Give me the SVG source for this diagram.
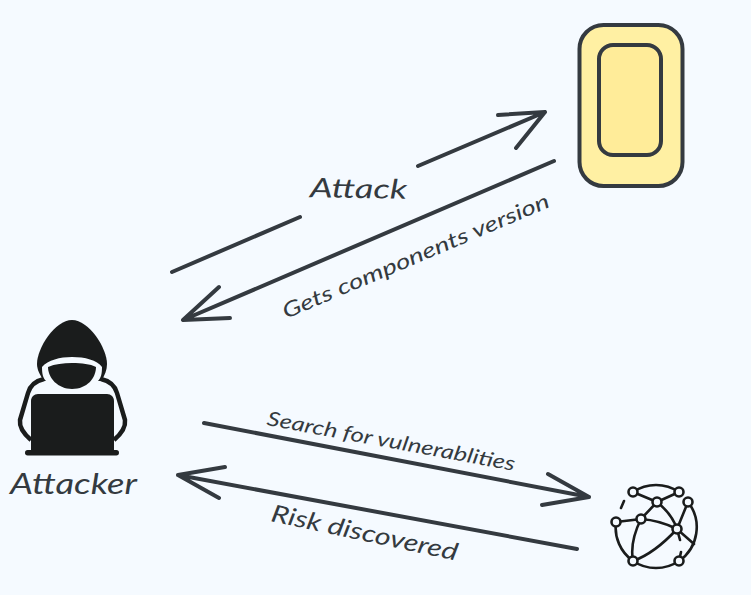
<svg xmlns="http://www.w3.org/2000/svg" width="751" height="595" viewBox="0 0 751 595">
<style>
.ln{fill:none;stroke:#343a40;stroke-width:4;stroke-linecap:round;stroke-linejoin:round}
.t{font-family:"Lato","Noto Sans",sans-serif;font-style:italic;fill:#343a40}
.g{fill:none;stroke:#1a1c1c;stroke-width:2.6;stroke-linecap:round}
.n{fill:#f5faff;stroke:#1a1c1c;stroke-width:2.6}
</style>
<rect width="751" height="595" fill="#f5faff"/>
<g id="connectors">
<path class="ln" d="M172 272L300 217M418 166L545 112M498 115L545 112L516 148"/>
<path class="ln" d="M554 161L183 320M219 287L183 320L230 318"/>
<path class="ln" d="M204 423L589 497M548 474L589 497L542 505"/>
<path class="ln" d="M577 549L178 475M225 467L178 475L219 498"/>
</g>
<g id="label-attack"><text class="t" x="310" y="198" font-size="27" textLength="97" lengthAdjust="spacingAndGlyphs" transform="rotate(1 358 190)">Attack</text></g>
<g id="label-gets"><text class="t" x="0" y="0" font-size="21" textLength="288" lengthAdjust="spacingAndGlyphs" transform="translate(286 319) rotate(-23)">Gets components version</text></g>
<g id="label-search"><text class="t" x="0" y="0" font-size="20" textLength="252" lengthAdjust="spacingAndGlyphs" transform="translate(266 425) rotate(10.5)">Search for vulnerablities</text></g>
<g id="label-risk"><text class="t" x="0" y="0" font-size="24" textLength="190" lengthAdjust="spacingAndGlyphs" transform="translate(270 521) rotate(12)">Risk discovered</text></g>
<g id="device">
<rect x="579.500" y="25" width="103" height="161" rx="24" fill="#fff0a3" stroke="#343a40" stroke-width="4"/>
<rect x="599" y="45" width="62" height="110" rx="14" fill="#ffec99" stroke="#343a40" stroke-width="4"/>
</g>
<g id="attacker">
<path fill="none" stroke="#1a1c1c" stroke-width="4.500" stroke-linejoin="round" d="M44 379C35 381 30 386 28 393L20 420C19 428 24 434 31 440M101 379C110 381 115 386 117 393L125 420C126 428 121 434 114 440"/>
<path fill="#1a1c1c" d="M72 320C55 320 37 348 37 364C37 370 40 375 44 381H101C105 375 107 370 107 364C107 348 89 320 72 320Z"/>
<path fill="#f5faff" d="M42 367C48 360 60 357 72 357C85 357 97 360 102 367C102 374 101 378 98 381C92 388 84 393 72 393C60 393 52 388 46 381C43 378 42 374 42 367Z"/>
<path fill="#1a1c1c" d="M48 367C55 364 63 363 72 363C82 363 90 364 96 367C96 378 87 389 72 389C58 389 48 378 48 367Z"/>
<path fill="#1a1c1c" d="M38 394H107C111 394 114 397 114 401V451H31V401C31 397 34 394 38 394Z"/>
<rect x="25" y="450" width="94" height="5.500" rx="2.700" fill="#1a1c1c"/>
<text class="t" x="10" y="494" font-size="28" textLength="127" lengthAdjust="spacingAndGlyphs">Attacker</text>
</g>
<g id="globe">
<path class="g" d="M633 492A41 41 0 0 1 679 492M688 502A41 41 0 0 1 679 561M679 561A41 41 0 0 1 633 561M633 561A41 41 0 0 1 616 522M621 508L624 501"/>
<path class="g" d="M633 492L657 502L679 492M657 502L641 519L616 522M688 502L677 529M641 519C655 520 667 524 677 529L694 544M657 502C667 510 674 520 677 529L680 540M641 519C633 535 631 550 633 561C650 555 665 542 677 529M679 561L681 552"/>
<circle class="n" cx="633" cy="492" r="4.500"/><circle class="n" cx="679" cy="492" r="4.500"/><circle class="n" cx="657" cy="502" r="4.500"/><circle class="n" cx="688" cy="502" r="4.500"/><circle class="n" cx="616" cy="522" r="4.500"/><circle class="n" cx="641" cy="519" r="4.500"/><circle class="n" cx="677" cy="529" r="4.500"/><circle class="n" cx="633" cy="561" r="4.500"/><circle class="n" cx="679" cy="561" r="4.500"/>
</g>
</svg>
